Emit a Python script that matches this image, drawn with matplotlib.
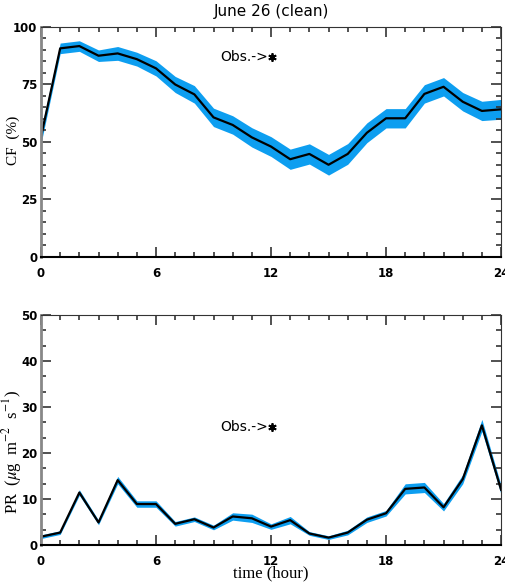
import numpy as np
import matplotlib
matplotlib.use("Agg")
import matplotlib.pyplot as plt
from matplotlib.ticker import MultipleLocator

hours = np.arange(0, 25)

cf_mean = [52.3, 90.7, 91.7, 87.5, 88.5, 86.0, 82.0, 75.0, 70.7, 60.7, 57.4, 52.0, 48.0,
           42.5, 44.8, 40.1, 44.8, 54.0, 60.3, 60.3, 70.9, 74.0, 67.5, 63.5, 64.2]
cf_err = [3.0, 2.3, 2.3, 2.5, 3.0, 3.0, 3.3, 3.5, 3.8, 4.0, 4.0, 4.2, 4.3,
          4.4, 4.4, 4.5, 4.5, 4.3, 4.2, 4.2, 4.0, 4.0, 4.0, 4.2, 4.3]

pr_mean = [1.8, 2.7, 11.4, 4.9, 14.1, 8.9, 8.9, 4.6, 5.6, 3.8, 6.2, 5.8, 4.0,
           5.4, 2.5, 1.6, 2.7, 5.5, 6.9, 12.2, 12.5, 8.2, 14.3, 26.0, 12.0]
pr_err = [0.4, 0.4, 0.6, 0.5, 0.8, 0.7, 0.7, 0.5, 0.5, 0.5, 0.8, 0.9, 0.6,
          0.8, 0.4, 0.4, 0.5, 0.6, 0.6, 1.1, 1.1, 0.8, 1.0, 1.3, 1.0]

BLUE = "#0d9ef0"
TICKFONT = "Liberation Sans Narrow"
LABELFONT = "Liberation Serif"

plt.rcParams["mathtext.fontset"] = "stix"

fig = plt.figure(figsize=(5.05, 5.85), dpi=100)
ax1 = fig.add_axes([0.0812, 0.5607, 0.911, 0.3932])
ax2 = fig.add_axes([0.0812, 0.0684, 0.911, 0.3932])


def style(ax, ymax, ymajor, yminor):
    ax.set_xlim(0, 24)
    ax.set_ylim(0, ymax)
    ax.xaxis.set_major_locator(MultipleLocator(6))
    ax.xaxis.set_minor_locator(MultipleLocator(1))
    ax.yaxis.set_major_locator(MultipleLocator(ymajor))
    ax.yaxis.set_minor_locator(MultipleLocator(yminor))
    ax.tick_params(which="both", direction="in", top=True, right=True,
                   color="#333333", width=1.2, labelsize=8.5)
    ax.tick_params(which="major", length=7)
    ax.tick_params(which="minor", length=3.5)
    ax.tick_params(axis="x", pad=7)
    ax.tick_params(axis="y", pad=2.5)
    for lab in ax.get_xticklabels() + ax.get_yticklabels():
        lab.set_fontfamily(TICKFONT)
        lab.set_fontweight("bold")
    ax.spines["left"].set_color("#888888")
    ax.spines["left"].set_linewidth(2)
    ax.spines["bottom"].set_linewidth(1.5)
    ax.spines["right"].set_color("#333333")
    ax.spines["top"].set_color("#333333")


ax1.fill_between(hours, np.array(cf_mean) - np.array(cf_err),
                 np.array(cf_mean) + np.array(cf_err), color=BLUE, lw=0)
ax1.plot(hours, cf_mean, color="black", lw=1.6)
style(ax1, 100, 25, 5)
ax1.set_title("June 26 (clean)", fontfamily=TICKFONT, fontsize=11, pad=8)
ax1.text(11.85, 87, "Obs.->", ha="right", va="center", fontfamily=TICKFONT, fontsize=10)
ax1.plot([12.05], [87], marker=(6, 2, 0), ms=6, mew=1.3, color="black")
fig.text(13 / 505, 1 - 140 / 585, "CF  (%)", rotation=90, ha="center", va="center",
         fontfamily=LABELFONT, fontsize=11)

ax2.fill_between(hours, np.array(pr_mean) - np.array(pr_err),
                 np.array(pr_mean) + np.array(pr_err), color=BLUE, lw=0)
ax2.plot(hours, pr_mean, color="black", lw=1.6)
style(ax2, 50, 10, 10 / 3)
ax2.set_xlabel("time (hour)", fontfamily=LABELFONT, fontsize=12, labelpad=-2)
ax2.text(11.85, 25.6, "Obs.->", ha="right", va="center", fontfamily=TICKFONT, fontsize=10)
ax2.plot([12.05], [25.6], marker=(6, 2, 0), ms=6, mew=1.3, color="black")
fig.text(12 / 505, 1 - 452 / 585, r"PR  ($\mu$g  m$^{-2}$  s$^{-1}$)", rotation=90,
         ha="center", va="center", fontfamily=LABELFONT, fontsize=12)

fig.savefig("out.png", dpi=100)
